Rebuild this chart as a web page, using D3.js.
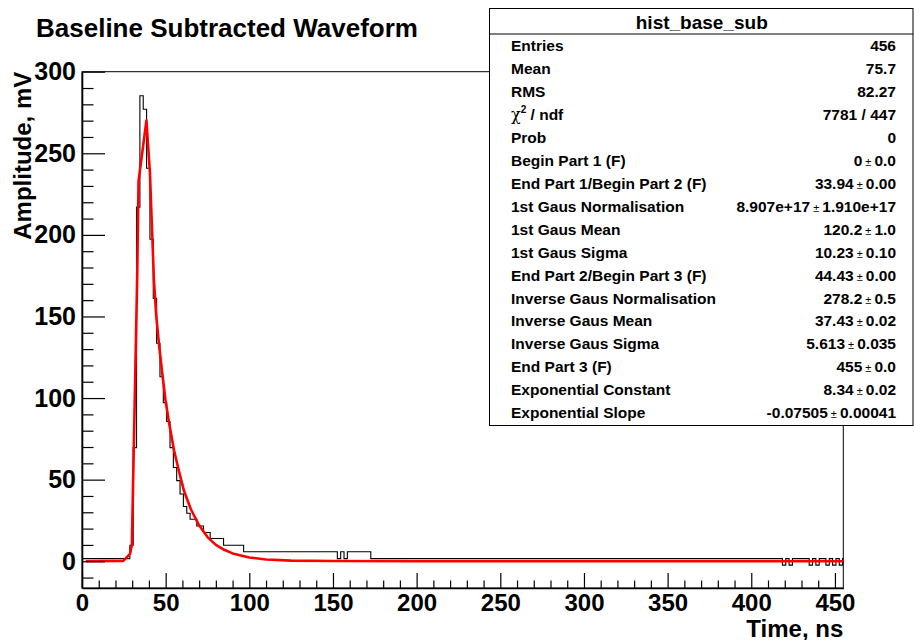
<!DOCTYPE html>
<html>
<head>
<meta charset="utf-8">
<script src="https://cdn.jsdelivr.net/npm/d3@7"></script>
<style>
  html, body { margin: 0; padding: 0; background: #fff; }
  svg { display: block; font-family: "Liberation Sans", Arial, Helvetica, sans-serif; }
</style>
</head>
<body>
<svg id="chart" width="914" height="640"></svg>
<script>
// Histogram of the baseline-subtracted waveform: run edges (ns) and the amplitude (mV) of each run
const histEdges = [0, 28.6, 30.6, 32.6, 34.6, 36.6, 38.6, 40.6, 42.6, 44.6,
  46.6, 48.6, 50.6, 52.6, 54.6, 56.6, 58.6, 60.6, 62.6, 64.6,
  68.6, 72.6, 76.6, 84.6, 96.6, 152.6, 154.6, 156.6, 158.6, 172.6,
  418.6, 420.6, 422.6, 424.6, 434.6, 436.6, 438.6, 440.6, 444.6, 446.6,
  448.6, 450.6, 452.6, 454.6, 455];
const histLevels = [1.6, 9.8, 69.6, 217, 285.3, 277, 240.8, 197.3, 161.1, 133.6,
  113.1, 97.2, 85.6, 69.6, 57.4, 49.4, 41.2, 33.5, 29.4, 25.7,
  21.6, 17.6, 13.9, 9.8, 5.8, 1.6, 5.8, 1.6, 5.8, 1.6,
  -2.4, 1.6, -2.4, 1.6, -2.4, 1.6, -2.4, 1.6, -2.4, 1.6,
  -2.4, 1.6, -2.4, 1.6];

// Fitted pulse shape (time in ns, amplitude in mV)
const fitTime = [2.3, 24.7, 28.7, 29.8, 33.0, 33.8, 38.5, 40.6, 43.0, 44.4,
  46, 48, 50, 52, 55, 58, 61, 65, 70, 75, 80, 85, 90, 100, 110, 125, 150, 200, 455];
const fitAmp = [0, 0.2, 4.5, 10, 175, 233, 270, 238, 172, 150,
  133, 115, 98, 85, 68, 55, 43, 32, 22, 14.8, 10, 7.0, 4.8, 2.3, 1.1, 0.4, 0.1, 0, 0];

// Axis ticks
const xMajorTicks = [0, 50, 100, 150, 200, 250, 300, 350, 400, 450];
const yMajorTicks = [0, 50, 100, 150, 200, 250, 300];

// Statistics box
const statTitle = "hist_base_sub";
const statLabels = ["Entries", "Mean", "RMS", "CHI2", "Prob", "Begin Part 1 (F)",
  "End Part 1/Begin Part 2 (F)", "1st Gaus Normalisation", "1st Gaus Mean",
  "1st Gaus Sigma", "End Part 2/Begin Part 3 (F)", "Inverse Gaus Normalisation",
  "Inverse Gaus Mean", "Inverse Gaus Sigma", "End Part 3 (F)",
  "Exponential Constant", "Exponential Slope"];
const statValues = ["456", "75.7", "82.27", "7781 / 447", "0", "0 ± 0.0",
  "33.94 ± 0.00", "8.907e+17 ± 1.910e+17", "120.2 ± 1.0", "10.23 ± 0.10",
  "44.43 ± 0.00", "278.2 ± 0.5", "37.43 ± 0.02", "5.613 ± 0.035", "455 ± 0.0",
  "8.34 ± 0.02", "-0.07505 ± 0.00041"];

const svg = d3.select("#chart");
const W = 914, H = 640;
const frame = { left: 82, right: 843.3, top: 71.7, bottom: 588 };

const x = d3.scaleLinear().domain([0, 455]).range([frame.left, frame.right]);
const y = d3.scaleLinear().domain([-16.4, 300]).range([frame.bottom, frame.top]);

svg.append("rect").attr("width", W).attr("height", H).attr("fill", "#fff");

// Plot frame
svg.append("rect")
  .attr("x", frame.left).attr("y", frame.top)
  .attr("width", frame.right - frame.left).attr("height", frame.bottom - frame.top)
  .attr("fill", "none").attr("stroke", "#000").attr("stroke-width", 1);

svg.append("defs").append("clipPath").attr("id", "plotClip")
  .append("rect")
  .attr("x", frame.left).attr("y", frame.top)
  .attr("width", frame.right - frame.left).attr("height", frame.bottom - frame.top);

const plot = svg.append("g").attr("clip-path", "url(#plotClip)");

// Histogram outline
const histPoints = histLevels.map((v, i) => [histEdges[i], v]);
histPoints.push([histEdges[histEdges.length - 1], histLevels[histLevels.length - 1]]);
plot.append("path")
  .datum(histPoints)
  .attr("fill", "none")
  .attr("stroke", "#000")
  .attr("stroke-width", 1.1)
  .attr("d", d3.line().x(d => x(d[0])).y(d => y(d[1])).curve(d3.curveStepAfter));

// Fit curve
plot.append("path")
  .datum(fitTime.map((t, i) => [t, fitAmp[i]]))
  .attr("fill", "none")
  .attr("stroke", "#ff0000")
  .attr("stroke-width", 2.6)
  .attr("stroke-linejoin", "round")
  .attr("d", d3.line().x(d => x(d[0])).y(d => y(d[1])));

// Axes
const fontYAxis = "bold 25px 'Liberation Sans', Arial, sans-serif";
const fontXAxis = "bold 24px 'Liberation Sans', Arial, sans-serif";

const yMinor = d3.range(-10, 301, 10).filter(v => v % 50 !== 0);
svg.append("g").attr("transform", `translate(${frame.left},0)`)
  .call(d3.axisLeft(y).tickValues(yMinor).tickSize(-11.5).tickSizeOuter(0).tickFormat(""))
  .call(g => g.select(".domain").remove());
const yAxis = svg.append("g").attr("transform", `translate(${frame.left},0)`)
  .call(d3.axisLeft(y).tickValues(yMajorTicks).tickSize(-23).tickSizeOuter(0).tickPadding(6).tickFormat(d3.format("d")));
yAxis.select(".domain").attr("stroke-width", 1.6);
yAxis.selectAll("text").style("font", fontYAxis).attr("fill", "#000");

const xMinor = d3.range(0, 455, 10).filter(v => v % 50 !== 0);
svg.append("g").attr("transform", `translate(0,${frame.bottom})`)
  .call(d3.axisBottom(x).tickValues(xMinor).tickSize(-7.5).tickSizeOuter(0).tickFormat(""))
  .call(g => g.select(".domain").remove());
const xAxis = svg.append("g").attr("transform", `translate(0,${frame.bottom})`)
  .call(d3.axisBottom(x).tickValues(xMajorTicks).tickSize(-15).tickSizeOuter(0).tickPadding(6).tickFormat(d3.format("d")));
xAxis.select(".domain").attr("stroke-width", 1.6);
xAxis.selectAll("text").style("font", fontXAxis).attr("fill", "#000");
svg.selectAll(".tick line").attr("stroke", "#000").attr("stroke-width", 1.2);

// Axis titles
svg.append("text")
  .attr("x", frame.right).attr("y", 636.5)
  .attr("text-anchor", "end")
  .style("font", "bold 24px 'Liberation Sans', Arial, sans-serif")
  .text("Time, ns");

svg.append("text")
  .attr("transform", `translate(31,${frame.top}) rotate(-90)`)
  .attr("text-anchor", "end")
  .style("font", "bold 24px 'Liberation Sans', Arial, sans-serif")
  .text("Amplitude, mV");

// Title
svg.append("text")
  .attr("x", 36).attr("y", 37)
  .style("font", "bold 26px 'Liberation Sans', Arial, sans-serif")
  .text("Baseline Subtracted Waveform");

// Statistics box
const box = { left: 489.5, top: 8.5, right: 913, bottom: 425.5 };
const stats = svg.append("g");
stats.append("rect")
  .attr("x", box.left).attr("y", box.top)
  .attr("width", box.right - box.left).attr("height", box.bottom - box.top)
  .attr("fill", "#fff").attr("stroke", "#000").attr("stroke-width", 1);
stats.append("line")
  .attr("x1", box.left).attr("x2", box.right)
  .attr("y1", 34).attr("y2", 34)
  .attr("stroke", "#000").attr("stroke-width", 1);
stats.append("text")
  .attr("x", (box.left + box.right) / 2 + 0.5).attr("y", 29)
  .attr("text-anchor", "middle")
  .style("font", "bold 19px 'Liberation Sans', Arial, sans-serif")
  .text(statTitle);

const rowY = d3.scaleLinear().domain([0, statLabels.length - 1]).range([51, 418.3]);
const rowFont = "bold 15.5px 'Liberation Sans', Arial, sans-serif";

statLabels.forEach((lab, i) => {
  const t = stats.append("text")
    .attr("x", 511).attr("y", rowY(i))
    .style("font", rowFont);
  if (lab === "CHI2") {
    t.append("tspan").style("font", "16px 'DejaVu Serif', serif").text("χ");
    t.append("tspan").attr("dy", -7).style("font", "bold 10px 'Liberation Sans', Arial, sans-serif").text("2");
    t.append("tspan").attr("dy", 7).text(" / ndf");
  } else {
    t.text(lab);
  }
  const v = stats.append("text")
    .attr("x", 896).attr("y", rowY(i))
    .attr("text-anchor", "end")
    .style("font", rowFont);
  const parts = statValues[i].split(" ± ");
  v.append("tspan").text(parts[0]);
  if (parts.length > 1) {
    v.append("tspan").style("font", "11px 'Liberation Sans', Arial, sans-serif").text(" ± ");
    v.append("tspan").text(parts[1]);
  }
});
</script>
</body>
</html>
